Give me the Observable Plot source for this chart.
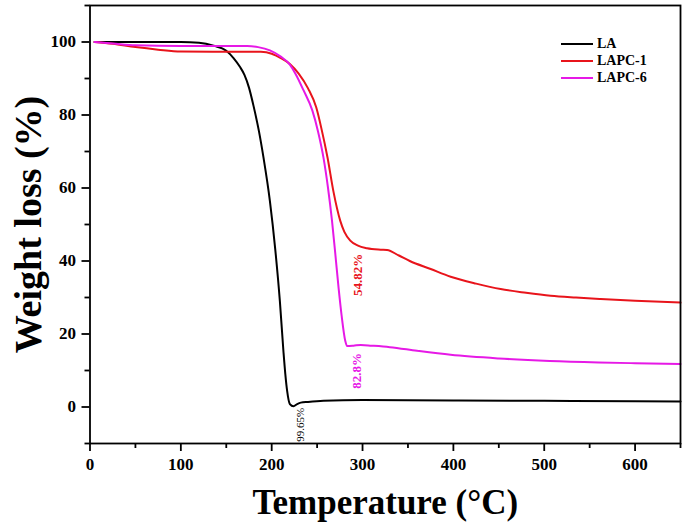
<!DOCTYPE html>
<html>
<head>
<meta charset="utf-8">
<script src="https://cdn.jsdelivr.net/npm/d3@7"></script>
<script src="https://cdn.jsdelivr.net/npm/@observablehq/plot@0.6"></script>
<style>
  body { margin: 0; background: #fff; }
  #wrap { position: relative; width: 685px; height: 528px; font-family: "Liberation Serif", "Times New Roman", serif; }
  #legend { position: absolute; left: 561px; top: 35px; font-weight: bold; font-size: 14px; }
  #legend .row { display: flex; align-items: center; height: 17px; }
  #legend .sw { width: 32px; height: 0; border-top: 2px solid; margin-right: 4px; }
</style>
</head>
<body>
<div id="wrap"><div id="legend"></div></div>
<script>
// Temperature (°C) and weight (%)
const seriesNames = ["LA", "LAPC-1", "LAPC-6"];
const seriesColors = ["#000000", "#e8141b", "#e619e6"];

const laT = [5, 50, 100, 120, 136, 150, 158, 165, 170, 175, 180, 186, 191, 198, 204, 209, 213, 215, 217, 220, 224, 228, 232, 240, 257, 300, 400, 500, 600, 650];
const laW = [100, 100, 100, 99.8, 99, 97.6, 95.6, 93.2, 91, 87.5, 82.5, 75.5, 68.3, 56.5, 43, 29, 15, 9, 4.4, 0.8, 0.2, 0.8, 1.2, 1.4, 1.7, 1.9, 1.8, 1.7, 1.6, 1.5];

const pc1T = [5, 25, 50, 75, 100, 188, 200, 210, 220, 229.5, 240, 249, 255, 261.5, 268, 275.5, 280, 286.5, 295, 305, 320, 327, 340, 352, 375, 397, 425, 452, 480, 507, 535, 562, 600, 650];
const pc1W = [100, 99.5, 98.6, 97.9, 97.4, 97.3, 96.8, 95.6, 94, 91.4, 87.3, 82.1, 76, 68.3, 59, 51, 48, 45.6, 44.2, 43.5, 43.1, 43, 41.5, 40, 37.8, 35.7, 33.8, 32.3, 31.3, 30.5, 30, 29.6, 29.1, 28.6];

const pc6T = [5, 25, 50, 100, 173, 185, 198, 210, 220, 226, 235, 244.8, 251, 257, 262, 266.4, 270, 273.6, 277, 281, 283, 290, 298, 310, 330, 360, 397, 450, 506, 560, 600, 650];
const pc6W = [100, 99.6, 99.1, 98.9, 98.9, 98.6, 97.7, 96, 93.8, 91.4, 86.8, 81.2, 75.5, 68.3, 60, 51, 42, 32.7, 25, 18.1, 16.7, 16.8, 17, 16.8, 16.4, 15.4, 14.3, 13.3, 12.6, 12.2, 12, 11.8];

// annotations: text, temperature, weight, series index
const noteText = ["54.82%", "82.8%", "99.65%"];
const noteT = [294.3, 293.2, 231.6];
const noteW = [36.2, 9.9, -4.9];
const noteSeries = [1, 2, 0];

const xMajor = [0, 100, 200, 300, 400, 500, 600];
const xMinor = [50, 150, 250, 350, 450, 550, 650];
const yMajor = [0, 20, 40, 60, 80, 100];
const yMinor = [-10, 10, 30, 50, 70, 90, 110];

const rows = [];
[[laT, laW], [pc1T, pc1W], [pc6T, pc6W]].forEach(([ts, ws], i) => {
  ts.forEach((t, j) => rows.push({series: seriesNames[i], t, w: ws[j]}));
});
const notes = noteText.map((s, i) => ({s, t: noteT[i], w: noteW[i], series: seriesNames[noteSeries[i]], bold: i < 2}));

const font = "Liberation Serif, Times New Roman, serif";
const chart = Plot.plot({
  width: 685,
  height: 528,
  marginLeft: 89.5,
  marginRight: 5,
  marginTop: 5,
  marginBottom: 85,
  style: {fontFamily: font, background: "white"},
  x: {domain: [0, 650]},
  y: {domain: [-10, 110]},
  color: {domain: seriesNames, range: seriesColors},
  marks: [
    Plot.line(rows, {x: "t", y: "w", z: "series", stroke: "series", strokeWidth: 2, curve: "monotone-x"}),
    Plot.text(notes.filter(d => d.bold), {x: "t", y: "w", text: "s", fill: "series", rotate: -90, fontSize: 13, fontWeight: "bold"}),
    Plot.text(notes.filter(d => !d.bold), {x: "t", y: "w", text: "s", fill: "series", rotate: -90, fontSize: 11}),
    Plot.frame({stroke: "black", strokeWidth: 1.8}),
    Plot.axisX({ticks: xMajor, tickSize: 8, strokeWidth: 1.8, tickPadding: 6, fontSize: 17, fontWeight: "bold", label: null, fill: "black"}),
    Plot.axisX({ticks: xMinor, tickSize: 5, strokeWidth: 1.8, text: null, label: null}),
    Plot.axisY({ticks: yMajor, tickSize: 8, strokeWidth: 1.8, tickPadding: 6, fontSize: 17, fontWeight: "bold", label: null, fill: "black"}),
    Plot.axisY({ticks: yMinor, tickSize: 5, strokeWidth: 1.8, text: null, label: null}),
    Plot.text(["Temperature (°C)"], {frameAnchor: "bottom", dy: 70, fontSize: 35, fontWeight: "bold", fill: "black", textAnchor: "middle"}),
    Plot.text(["Weight loss (%)"], {frameAnchor: "left", dx: -61, rotate: -90, fontSize: 38, fontWeight: "bold", fill: "black", textAnchor: "middle"})
  ]
});
const wrap = document.getElementById("wrap");
wrap.insertBefore(chart, wrap.firstChild);

const legend = document.getElementById("legend");
seriesNames.forEach((n, i) => {
  const r = document.createElement("div");
  r.className = "row";
  r.innerHTML = `<span class="sw" style="border-color:${seriesColors[i]}"></span><span>${n}</span>`;
  legend.appendChild(r);
});
</script>
</body>
</html>
